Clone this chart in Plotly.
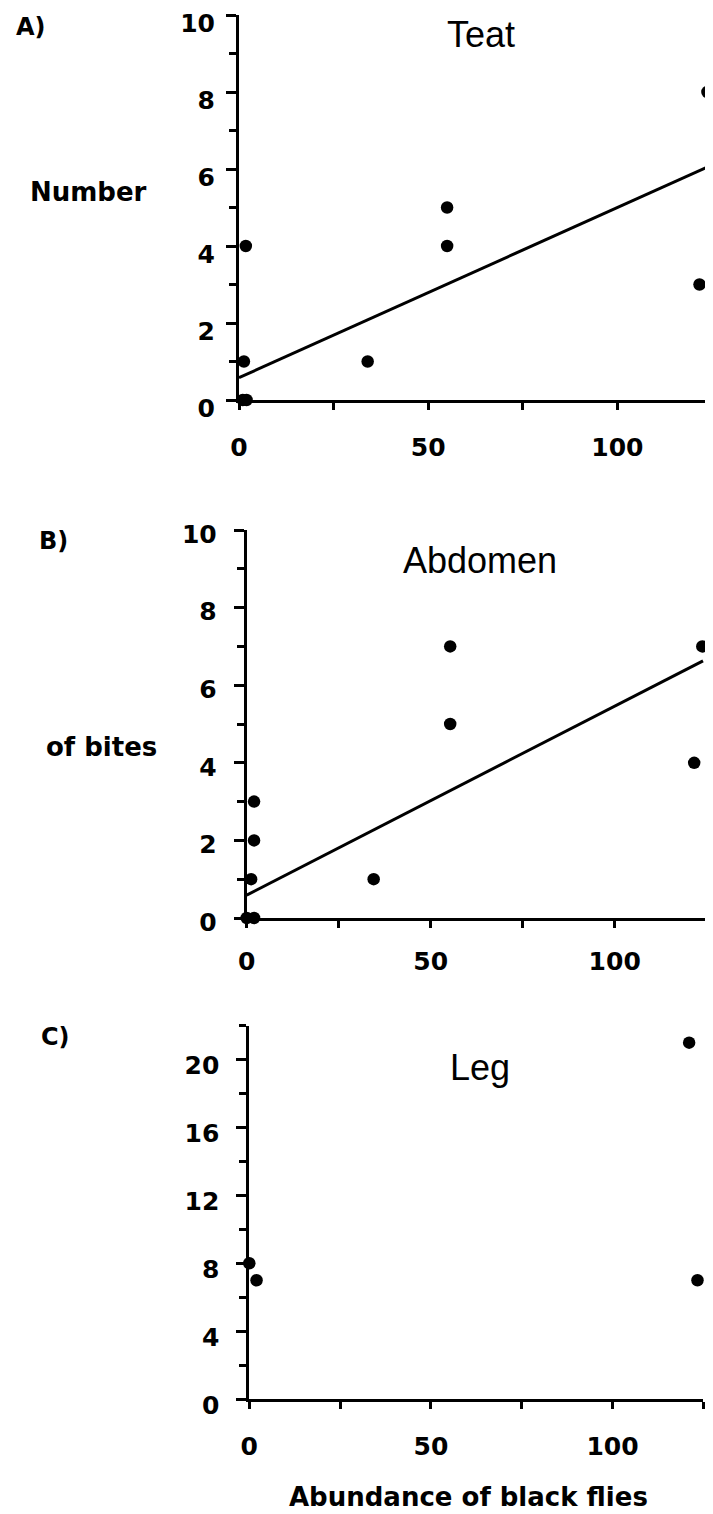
import plotly.graph_objects as go

# ---------------- data ----------------
teat_x = [1.0, 2.0, 1.3, 1.8, 34, 55, 55, 121.7, 123.8]
teat_y = [0, 0, 1, 4, 1, 5, 4, 3, 8]
teat_intercept = 0.58
teat_slope = 0.0442

abd_x = [0, 2, 1.2, 2, 2, 34.5, 55.3, 55.3, 121.6, 123.8]
abd_y = [0, 0, 1, 2, 3, 1, 7, 5, 4, 7]
abd_intercept = 0.59
abd_slope = 0.0487

leg_x = [0, 2, 121.1, 123.4]
leg_y = [8, 7, 21, 7]

fit_x = [0, 124]

x_tickvals = [0, 25, 50, 75, 100, 125]
x_ticktext = ["0", "", "50", "", "100", ""]
ab_y_major = [0, 2, 4, 6, 8, 10]
ab_y_minor = [1, 3, 5, 7, 9]
c_y_major = [0, 4, 8, 12, 16, 20]
c_y_minor = [2, 6, 10, 14, 18, 22]

panel_titles = ["Teat", "Abdomen", "Leg"]
panel_letters = ["A)", "B)", "C)"]
ylabel_parts = ["Number", "of bites"]
xlabel = "Abundance of black flies"

# ---------------- layout helpers ----------------
W, H = 713, 1514
OFF = 8  # page body margin


def px(x):
    return (x - OFF) / W


def py(y):
    return 1 - (y - OFF) / H


BOLD = dict(family="DejaVu Sans", size=25, color="black", weight="bold")

fig = go.Figure()

marker = dict(color="black", size=12.5)

fig.add_trace(go.Scatter(x=teat_x, y=teat_y, mode="markers", marker=marker,
                         xaxis="x", yaxis="y", cliponaxis=False, showlegend=False))
fig.add_trace(go.Scatter(x=fit_x, y=[teat_intercept + teat_slope * v for v in fit_x],
                         mode="lines", line=dict(color="black", width=3),
                         xaxis="x", yaxis="y", cliponaxis=False, showlegend=False))

fig.add_trace(go.Scatter(x=abd_x, y=abd_y, mode="markers", marker=marker,
                         xaxis="x2", yaxis="y2", cliponaxis=False, showlegend=False))
fig.add_trace(go.Scatter(x=fit_x, y=[abd_intercept + abd_slope * v for v in fit_x],
                         mode="lines", line=dict(color="black", width=3),
                         xaxis="x2", yaxis="y2", cliponaxis=False, showlegend=False))

fig.add_trace(go.Scatter(x=leg_x, y=leg_y, mode="markers", marker=marker,
                         xaxis="x3", yaxis="y3", cliponaxis=False, showlegend=False))


def xax(domain, anchor, standoff):
    return dict(domain=domain, anchor=anchor, range=[0, 125],
                tickvals=x_tickvals, ticktext=x_ticktext,
                ticks="outside", ticklen=7, tickwidth=3, tickcolor="black",
                showline=True, linewidth=3, linecolor="black",
                showgrid=False, zeroline=False, tickfont=BOLD,
                ticklabelstandoff=standoff, fixedrange=True, automargin=False)


def yax(domain, anchor, rng, major, minor, standoff, shift):
    return dict(domain=domain, anchor=anchor, range=rng,
                tickvals=major, ticks="outside", ticklen=10, tickwidth=3,
                tickcolor="black",
                minor=dict(tickvals=minor, ticks="outside", ticklen=7,
                           tickwidth=3, tickcolor="black"),
                showline=True, linewidth=3, linecolor="black",
                showgrid=False, zeroline=False, tickfont=BOLD,
                ticklabelstandoff=standoff, ticklabelshift=shift,
                fixedrange=True, automargin=False)


fig.update_layout(
    width=W, height=H, autosize=False,
    margin=dict(l=0, r=0, t=0, b=0, pad=0),
    paper_bgcolor="white", plot_bgcolor="white",
    showlegend=False,
    xaxis=xax([px(239), px(712)], "y", 16),
    yaxis=yax([py(400), py(15)], "x", [0, 10], ab_y_major, ab_y_minor, 6, 8),
    xaxis2=xax([px(246.7), px(706.7)], "y2", 12),
    yaxis2=yax([py(918), py(530)], "x2", [0, 10], ab_y_major, ab_y_minor, 12, 4),
    xaxis3=xax([px(249.3), px(703.3)], "y3", 16),
    yaxis3=yax([py(1399), py(1025.7)], "x3", [0, 22], c_y_major, c_y_minor, 12, 6),
)

ann = []
title_pos = [(481, 34), (480, 561), (480, 1067)]
for t, (x, y) in zip(panel_titles, title_pos):
    ann.append(dict(text=t, x=px(x), y=py(y), xref="paper", yref="paper",
                    xanchor="center", yanchor="middle", showarrow=False,
                    font=dict(family="Liberation Sans", size=36, color="black")))

letter_pos = [(31, 27), (53, 541), (55, 1037)]
for t, (x, y) in zip(panel_letters, letter_pos):
    ann.append(dict(text=t, x=px(x), y=py(y), xref="paper", yref="paper",
                    xanchor="center", yanchor="middle", showarrow=False,
                    font=dict(family="DejaVu Sans", size=24, color="black", weight="bold")))

ylab_pos = [(88, 192), (101, 747)]
for t, (x, y) in zip(ylabel_parts, ylab_pos):
    ann.append(dict(text=t, x=px(x), y=py(y), xref="paper", yref="paper",
                    xanchor="center", yanchor="middle", showarrow=False,
                    font=dict(family="DejaVu Sans", size=26, color="black", weight="bold")))

ann.append(dict(text=xlabel, x=px(468.5), y=py(1497), xref="paper", yref="paper",
                xanchor="center", yanchor="middle", showarrow=False,
                font=dict(family="DejaVu Sans", size=26, color="black", weight="bold")))

fig.update_layout(annotations=ann)

fig.write_html("out.html")
